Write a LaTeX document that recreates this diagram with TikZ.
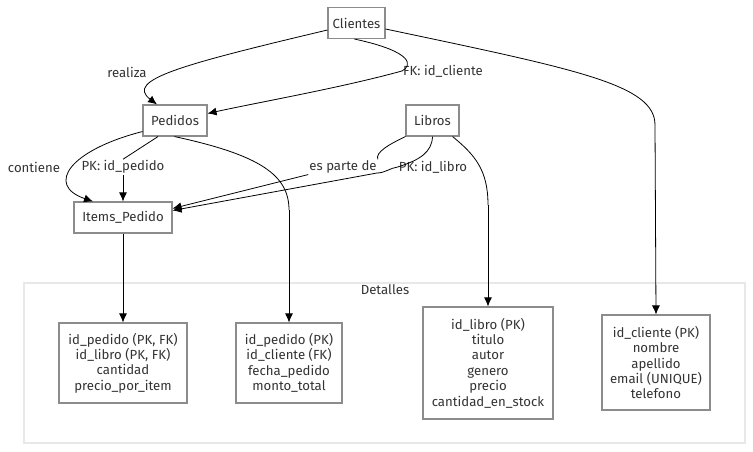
\documentclass[tikz,border=0pt]{standalone}
\usepackage{fontspec}
\setmainfont{Fira Sans}
\usetikzlibrary{arrows.meta}
\definecolor{txt}{HTML}{333333}
\definecolor{boxc}{HTML}{8C8C8C}
\definecolor{clus}{HTML}{E8E8E8}
\begin{document}
\begin{tikzpicture}[x=1pt,y=-1pt,
  every node/.style={font=\fontsize{13.2}{15.4}\selectfont, text=txt, inner sep=0pt},
  ent/.style={draw=boxc, line width=1.1pt, fill=white, minimum height=31pt, align=center},
  det/.style={draw=boxc, line width=1.1pt, fill=white, align=center},
  lbl/.style={inner sep=1pt},
  edge/.style={draw=black, line width=0.8pt},
  arr/.style={edge, -{Latex[length=9pt,width=8pt]}}]
\useasboundingbox (0,0) rectangle (753,452);
% cluster
\node[draw=clus, line width=1.2pt, fill=white, minimum width=721pt, minimum height=160pt] (cl) at (384.5,363) {};
\node (cltitle) at (385,290) {Detalles};
% entities
\node[ent, minimum width=57pt] (cli) at (356.5,23) {Clientes};
\node[ent, minimum width=64pt] (ped) at (175,120.5) {Pedidos};
\node[ent, minimum width=53pt] (lib) at (432.5,120.5) {Libros};
\node[ent, minimum width=98pt] (items) at (123,217.5) {Items\_Pedido};
% detail boxes
\node[det, minimum width=128pt, minimum height=80pt] (b1) at (123,363) {id\_pedido (PK, FK)\\id\_libro (PK, FK)\\cantidad\\precio\_por\_item};
\node[det, minimum width=106pt, minimum height=80pt] (b2) at (289,363) {id\_pedido (PK)\\id\_cliente (FK)\\fecha\_pedido\\monto\_total};
\node[det, minimum width=130pt, minimum height=112pt] (b3) at (488,363) {id\_libro (PK)\\titulo\\autor\\genero\\precio\\cantidad\_en\_stock};
\node[det, minimum width=108pt, minimum height=95pt] (b4) at (656,362.5) {id\_cliente (PK)\\nombre\\apellido\\email (UNIQUE)\\telefono};
% labels
\node[lbl] (lrealiza) at (127,72) {realiza};
\node[lbl] (lfk) at (443,71) {FK: id\_cliente};
\node[lbl] (lcont) at (34,167) {contiene};
\node[lbl] (lpkp) at (123,167) {PK: id\_pedido};
\node[lbl] (lep) at (343,167) {es parte de};
\node[lbl] (lpkl) at (433,167) {PK: id\_libro};
% coordinates
\coordinate (c1) at (655,125);
\coordinate (c2) at (289,210);
\coordinate (c3) at (488,205);
\coordinate (c4) at (377,173);
% edges
\draw[arr] ([yshift=-7pt]cli.west) .. controls (180,65) and (125,80) .. ([xshift=-18pt]ped.north);
\draw[edge] ([xshift=27pt]cli.south west) .. controls (415,52) and (412,66) .. (lfk.west);
\draw[arr] (lfk.west) .. controls (340,88) and (260,102) .. ([yshift=7pt]ped.east);
\draw[edge] ([yshift=-6pt]cli.east) .. controls (580,70) and (655,85) .. (c1);
\draw[arr] (c1) -- (b4.north);
\draw[arr] ([yshift=5pt]ped.south west) .. controls (70,150) and (45,185) .. ([xshift=-30pt]items.north);
\draw[edge] ([xshift=-17pt]ped.south) -- (lpkp.north);
\draw[arr] (lpkp.south) -- (items.north);
\draw[edge] ([xshift=32pt]ped.south west) .. controls (260,155) and (289,175) .. (c2);
\draw[arr] (c2) -- (b2.north);
\draw[edge] (lib.south west) .. controls (390,144) and (375,152) .. (lep.north east);
\draw[arr] (lep.south west) -- ([yshift=9pt]items.east);
\draw[edge] (lib.south) .. controls (432,152) and (420,160) .. (lpkl.west);
\draw[edge] (lpkl.west) .. controls (390,168) and (385,173) .. (c4);
\draw[arr] (c4) -- ([yshift=7pt]items.east);
\draw[edge] ([xshift=-7pt]lib.south east) .. controls (475,155) and (488,170) .. (c3);
\draw[arr] (c3) -- (b3.north);
\draw[arr] (items.south) -- (b1.north);
\end{tikzpicture}
\end{document}
